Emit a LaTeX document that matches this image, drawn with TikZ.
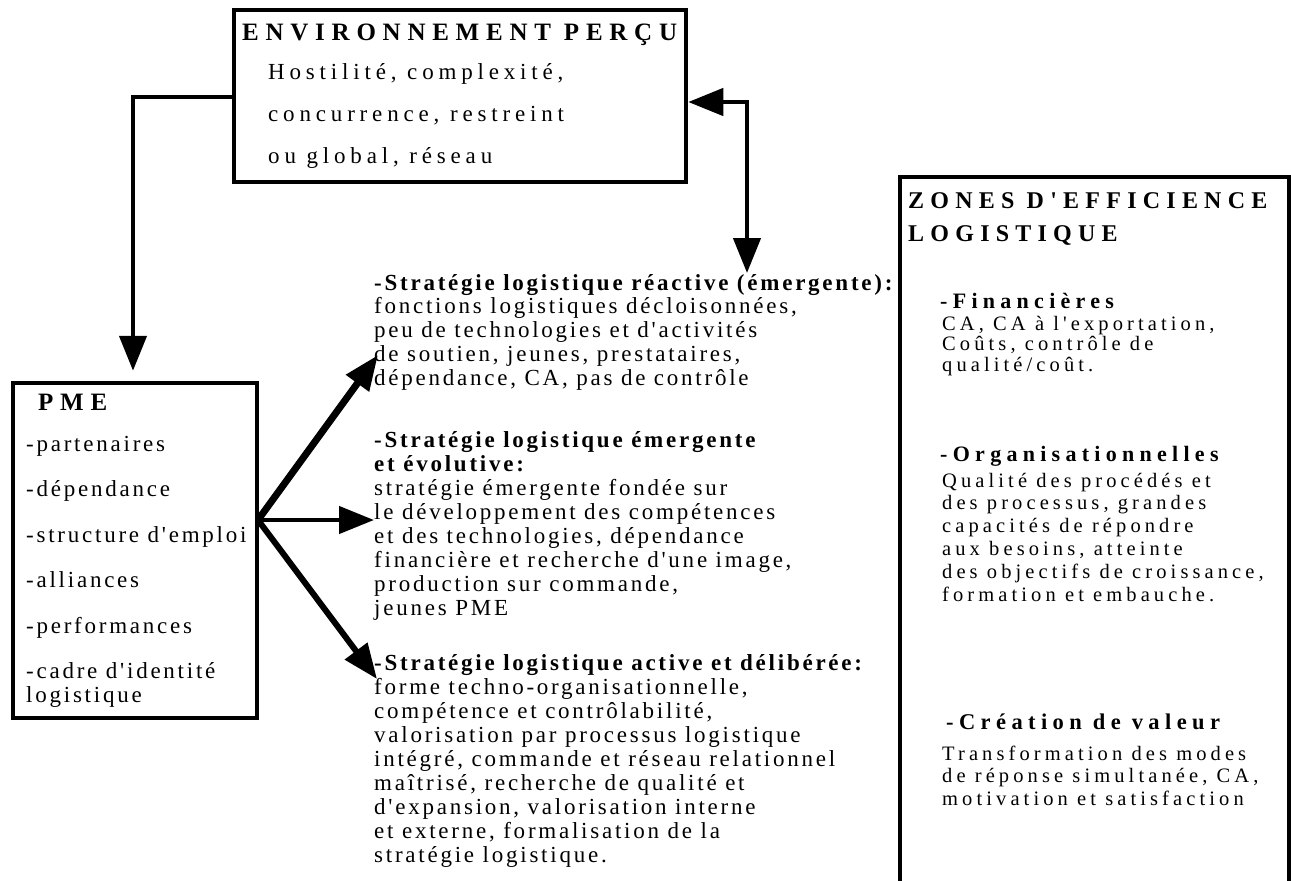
\documentclass[tikz,border=0pt]{standalone}
\usepackage{fontspec}
\setmainfont{Liberation Serif}
\newfontfamily\stratfont[LetterSpace=12]{Liberation Serif}
\newfontfamily\envfont[LetterSpace=21]{Liberation Serif}
\newfontfamily\titlefont[LetterSpace=27]{Liberation Serif}
\newfontfamily\ztitlefont[LetterSpace=26]{Liberation Serif}
\newfontfamily\zonefont[LetterSpace=20]{Liberation Serif}
\newfontfamily\subfont[LetterSpace=24]{Liberation Serif}
\newcommand\fsz[2]{\fontsize{#1}{#2}\selectfont}
\usetikzlibrary{arrows.meta}
\tikzset{
  box/.style={draw, line width=4.5pt, inner sep=0pt, rectangle},
  txt/.style={inner sep=0pt, anchor=base west, align=left},
  conn/.style={line width=4.5pt},
  tip/.style={-{Triangle[length=35pt,width=27pt]}},
  dtip/.style={{Triangle[length=35pt,width=27pt]}-{Triangle[length=35pt,width=27pt]}},
}
\begin{document}
\begin{tikzpicture}[x=1pt,y=-1pt]
\useasboundingbox (0,0) rectangle (1291,881);
\fill[white] (0,0) rectangle (1291,881);
% boxes
\node[box, minimum width=452pt, minimum height=172pt] (env) at (460,96) {};
\node[box, minimum width=244pt, minimum height=335pt] (pme) at (135,550.5) {};
\node[box, minimum width=389pt, minimum height=710pt] (zones) at (1094.5,532) {};
% env text (anchor = baseline of last line)
\node[txt, font=\titlefont\bfseries\fsz{25}{28}] (envt) at (242,40) {ENVIRONNEMENT PERÇU};
\node[txt, font=\envfont\fsz{23}{42}] (envb) at (268,163) {Hostilité, complexité,\\concurrence, restreint\\ou global, réseau};
% PME text
\node[txt, font=\titlefont\bfseries\fsz{25}{28}] (pmet) at (38,410) {PME};
\node[txt, font=\stratfont\fsz{23}{45.5}] (pmeb) at (26,702.5) {-partenaires\\-dépendance\\-structure d'emploi\\-alliances\\-performances\\-cadre d'identité\\[-21.5pt]logistique};
% strategies
\node[txt, font=\stratfont\fsz{23}{23.8}] (s1) at (374,385.2) {{\bfseries -Stratégie logistique réactive (émergente):}\\fonctions logistiques décloisonnées,\\peu de technologies et d'activités\\de soutien, jeunes, prestataires,\\dépendance, CA, pas de contrôle};
\node[txt, font=\stratfont\fsz{23}{24}] (s2) at (374,615) {{\bfseries -Stratégie logistique émergente}\\{\bfseries et évolutive:}\\stratégie émergente fondée sur\\le développement des compétences\\et des technologies, dépendance\\financière et recherche d'une image,\\production sur commande,\\jeunes PME};
\node[txt, font=\stratfont\fsz{23}{24.1}] (s3) at (374,862.8) {{\bfseries -Stratégie logistique active et délibérée:}\\forme techno-organisationnelle,\\compétence et contrôlabilité,\\valorisation par processus logistique\\intégré, commande et réseau relationnel\\maîtrisé, recherche de qualité et\\d'expansion, valorisation interne\\et externe, formalisation de la\\stratégie logistique.};
% zones text
\node[txt, font=\ztitlefont\bfseries\fsz{24}{33}] (zt) at (908,241) {ZONES D'EFFICIENCE\\LOGISTIQUE};
\node[txt, font=\subfont\bfseries\fsz{22}{26}] (zf) at (940,308) {-Financières};
\node[txt, font=\zonefont\fsz{20.5}{20.5}] (zfb) at (942,371) {CA, CA à l'exportation,\\Coûts, contrôle de\\qualité/coût.};
\node[txt, font=\subfont\bfseries\fsz{22}{26}] (zo) at (940,461) {-Organisationnelles};
\node[txt, font=\zonefont\fsz{20.5}{22.8}] (zob) at (942,601) {Qualité des procédés et\\des processus, grandes\\capacités de répondre\\aux besoins, atteinte\\des objectifs de croissance,\\formation et embauche.};
\node[txt, font=\subfont\bfseries\fsz{22.5}{26}] (zc) at (946,729) {-Création de valeur};
\node[txt, font=\zonefont\fsz{20.5}{22.5}] (zcb) at (942,805) {Transformation des modes\\de réponse simultanée, CA,\\motivation et satisfaction};
% connectors
\coordinate (e1) at (133,97);
\draw[conn, tip] (env.west |- e1) -| ([yshift=10pt]pme.north -| e1);
\coordinate (d1) at (747,102);
\coordinate (d2) at (747,273);
\draw[conn, dtip] (env.east |- d1) -- (d1) -- (d2);
\coordinate (j) at (258,520);
\coordinate (t1) at (378,355);
\coordinate (t2) at (374,520);
\coordinate (t3) at (377,679);
\draw[tip, line width=7pt] (j) -- (t1);
\draw[tip, line width=4.5pt] (j) -- (t2);
\draw[tip, line width=6pt] (j) -- (t3);
\end{tikzpicture}
\end{document}
